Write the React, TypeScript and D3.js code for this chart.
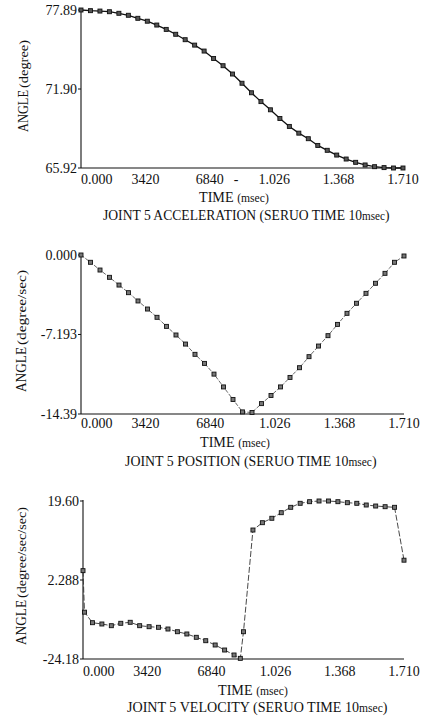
import React, { useLayoutEffect, useRef, useState } from "react";
import * as d3 from "d3";

// ---- data ----
const TIMES = [
  0, 50.3, 100.6, 150.9, 201.2, 251.5, 301.8, 352.1, 402.4, 452.6, 502.9, 553.2,
  603.5, 653.8, 704.1, 754.4, 804.7, 855.0, 905.3, 955.6, 1005.9, 1056.2, 1106.5,
  1156.8, 1207.1, 1257.4, 1307.6, 1357.9, 1408.2, 1458.5, 1508.8, 1559.1, 1609.4,
  1659.7, 1710.0,
];

const ACC_VALUES = [
  77.89, 77.84, 77.81, 77.76, 77.64, 77.49, 77.26, 77.04, 76.75, 76.42, 76.05,
  75.64, 75.23, 74.78, 74.22, 73.67, 73.04, 72.34, 71.62, 70.95, 70.33, 69.67,
  69.07, 68.56, 68.14, 67.63, 67.26, 66.9, 66.6, 66.35, 66.15, 66.02, 65.95,
  65.92, 65.92,
];

const POS_VALUES = [
  0.0, -0.66, -1.36, -2.02, -2.72, -3.41, -4.16, -4.89, -5.64, -6.46, -7.24,
  -8.06, -8.99, -9.81, -10.78, -11.94, -13.08, -14.2, -14.25, -13.45, -12.72,
  -11.94, -11.08, -10.2, -9.2, -8.24, -7.3, -6.28, -5.28, -4.37, -3.47, -2.56,
  -1.66, -0.66, -0.09,
];

const VEL_TIMES = [
  0, 8, 50.3, 100.6, 150.9, 201.2, 251.5, 301.8, 352.1, 402.4, 452.6, 502.9,
  553.2, 603.5, 653.8, 704.1, 754.4, 804.7, 838, 855.0, 905.3, 955.6, 1005.9,
  1056.2, 1106.5, 1156.8, 1207.1, 1257.4, 1307.6, 1357.9, 1408.2, 1458.5,
  1508.8, 1559.1, 1609.4, 1659.7, 1710.0,
];

const VEL_VALUES = [
  0.3, -11.2, -14.12, -14.48, -14.95, -14.29, -14.01, -14.95, -15.23, -15.4,
  -15.87, -16.62, -17.25, -18.17, -19.11, -20.3, -21.69, -23.07, -24.0, -16.62,
  11.56, 13.59, 14.81, 16.36, 17.85, 18.96, 19.41, 19.6, 19.6, 19.41, 19.13,
  18.96, 18.49, 18.21, 18.02, 17.85, 3.2,
];

const X_TICK_VALUES = [0, 342, 684, 1026, 1368, 1710];
const X_TICK_LABELS = ["0.000", "3420", "6840", "1.026", "1.368", "1.710"];

const ACC_Y_TICKS = [77.89, 71.905, 65.92];
const ACC_Y_LABELS = ["77.89", "71.90", "65.92"];
const POS_Y_TICKS = [0, -7.193, -14.39];
const POS_Y_LABELS = ["0.000", "-7.193", "-14.39"];
const VEL_Y_TICKS = [19.6, -2.29, -24.18];
const VEL_Y_LABELS = ["19.60", "2.288", "-24.18"];

const FONT = "'Liberation Serif', 'DejaVu Serif', serif";

// Text squeezed horizontally to a target width (measured at runtime).
function FitText(props: {
  x: number;
  y: number;
  width: number;
  fontSize: number;
  children: React.ReactNode;
}) {
  const ref = useRef<SVGTextElement>(null);
  const [k, setK] = useState(1);
  useLayoutEffect(() => {
    if (ref.current) {
      const w = ref.current.getBBox().width;
      if (w > 0) setK(props.width / w);
    }
  }, [props.width]);
  const { x, y } = props;
  return (
    <text
      ref={ref}
      x={x}
      y={y}
      fontSize={props.fontSize}
      transform={`translate(${x},0) scale(${k},1) translate(${-x},0)`}
    >
      {props.children}
    </text>
  );
}

type PanelProps = {
  times: number[];
  values: number[];
  yDomain: [number, number];
  yTicks: number[];
  yLabels: string[];
  left: number;
  right: number;
  top: number;
  bottom: number;
  yTitleMain: string;
  yTitleSub: string;
  yTitleX: number;
  yTitleStart: number;
  yTitleMainLen: number;
  yTitleSubLen: number;
  tickLabelDy: number;
  timeY: number;
  timeX: number;
  captionMain: string;
  captionX: number;
  captionY: number;
  captionLen: number;
  lineWidth: number;
  lineColor: string;
  dash?: string;
  markerFill: string;
};

function Panel(p: PanelProps) {
  const x = d3.scaleLinear().domain([0, 1710]).range([p.left, p.right]);
  const y = d3.scaleLinear().domain(p.yDomain).range([p.bottom, p.top]);
  const pts = p.times.map((t, i) => [t, p.values[i]] as [number, number]);
  const line = d3
    .line<[number, number]>()
    .x((d) => x(d[0]))
    .y((d) => y(d[1]));
  return (
    <g fontFamily={FONT} fill="#111">
      <line x1={p.left} x2={p.left} y1={p.top - 1} y2={p.bottom} stroke="#111" strokeWidth={1.1} />
      <line x1={p.left} x2={p.right} y1={p.bottom} y2={p.bottom} stroke="#111" strokeWidth={1.1} />
      {p.yTicks.map((t, i) => (
        <g key={"yt" + i}>
          <line x1={p.left - 3} x2={p.left} y1={y(t)} y2={y(t)} stroke="#111" strokeWidth={1} />
          <text x={p.left - 4} y={y(t) + 5} textAnchor="end" fontSize={14}>
            {p.yLabels[i]}
          </text>
        </g>
      ))}
      {X_TICK_VALUES.map((t, i) => (
        <text
          key={"xt" + i}
          x={x(t)}
          y={p.bottom + p.tickLabelDy}
          textAnchor={i === 0 ? "start" : "middle"}
          fontSize={14}
        >
          {X_TICK_LABELS[i]}
        </text>
      ))}
      <path
        d={line(pts) || ""}
        fill="none"
        stroke={p.lineColor}
        strokeWidth={p.lineWidth}
        strokeDasharray={p.dash}
      />
      {pts.map((d, i) => (
        <rect
          key={"m" + i}
          x={x(d[0]) - 2}
          y={y(d[1]) - 2}
          width={4}
          height={4}
          fill={p.markerFill}
          stroke="#111"
          strokeWidth={0.9}
        />
      ))}
      <g transform={`translate(${p.yTitleX},${p.yTitleStart}) rotate(-90)`}>
        <text x={0} y={0} fontSize={14} textLength={p.yTitleMainLen} lengthAdjust="spacingAndGlyphs">
          {p.yTitleMain}
        </text>
        <text
          x={p.yTitleMainLen + 2}
          y={0}
          fontSize={12}
          textLength={p.yTitleSubLen}
          lengthAdjust="spacingAndGlyphs"
        >
          {p.yTitleSub}
        </text>
      </g>
      <FitText x={p.timeX - 35} y={p.timeY} width={70} fontSize={14}>
        TIME <tspan fontSize={11.5}>(msec)</tspan>
      </FitText>
      <FitText x={p.captionX} y={p.captionY} width={p.captionLen} fontSize={14}>
        {p.captionMain}
        <tspan fontSize={11.5}>msec</tspan>)
      </FitText>
    </g>
  );
}

export default function App() {
  return (
    <svg
      width={427}
      height={720}
      viewBox="0 0 427 720"
      style={{ position: "absolute", left: 0, top: 0, background: "#fff" }}
    >
      <rect x={0} y={0} width={427} height={720} fill="#fff" />
      <Panel
        times={TIMES}
        values={ACC_VALUES}
        yDomain={[65.92, 77.89]}
        yTicks={ACC_Y_TICKS}
        yLabels={ACC_Y_LABELS}
        left={81}
        right={403}
        top={10}
        bottom={168}
        yTitleMain="ANGLE"
        yTitleSub="(degree)"
        yTitleX={28}
        yTitleStart={132}
        yTitleMainLen={42}
        yTitleSubLen={48}
        tickLabelDy={16}
        timeX={234}
        timeY={202}
        captionMain="JOINT 5 ACCELERATION (SERUO TIME 10"
        captionX={103}
        captionY={220}
        captionLen={287}
        lineWidth={1.3}
        lineColor="#111"
        markerFill="#555"
      />
      <text x={236} y={184} fontFamily={FONT} fontSize={14} textAnchor="middle" fill="#111">
        -
      </text>
      <Panel
        times={TIMES}
        values={POS_VALUES}
        yDomain={[-14.39, 0]}
        yTicks={POS_Y_TICKS}
        yLabels={POS_Y_LABELS}
        left={81}
        right={404}
        top={255}
        bottom={414}
        yTitleMain="ANGLE"
        yTitleSub="(degree/sec)"
        yTitleX={26}
        yTitleStart={392}
        yTitleMainLen={45}
        yTitleSubLen={75}
        tickLabelDy={14}
        timeX={235}
        timeY={447}
        captionMain="JOINT 5 POSITION (SERUO TIME 10"
        captionX={125}
        captionY={466}
        captionLen={252}
        lineWidth={0.8}
        lineColor="#444"
        dash="4 1.5"
        markerFill="#777"
      />
      <Panel
        times={VEL_TIMES}
        values={VEL_VALUES}
        yDomain={[-24.18, 19.6]}
        yTicks={VEL_Y_TICKS}
        yLabels={VEL_Y_LABELS}
        left={83}
        right={404}
        top={501}
        bottom={659}
        yTitleMain="ANGLE"
        yTitleSub="(degree/sec/sec)"
        yTitleX={26}
        yTitleStart={645}
        yTitleMainLen={45}
        yTitleSubLen={91}
        tickLabelDy={17}
        timeX={253}
        timeY={695}
        captionMain="JOINT 5 VELOCITY (SERUO TIME 10"
        captionX={127}
        captionY={712}
        captionLen={261}
        lineWidth={0.9}
        lineColor="#333"
        dash="6 2"
        markerFill="#777"
      />
    </svg>
  );
}
